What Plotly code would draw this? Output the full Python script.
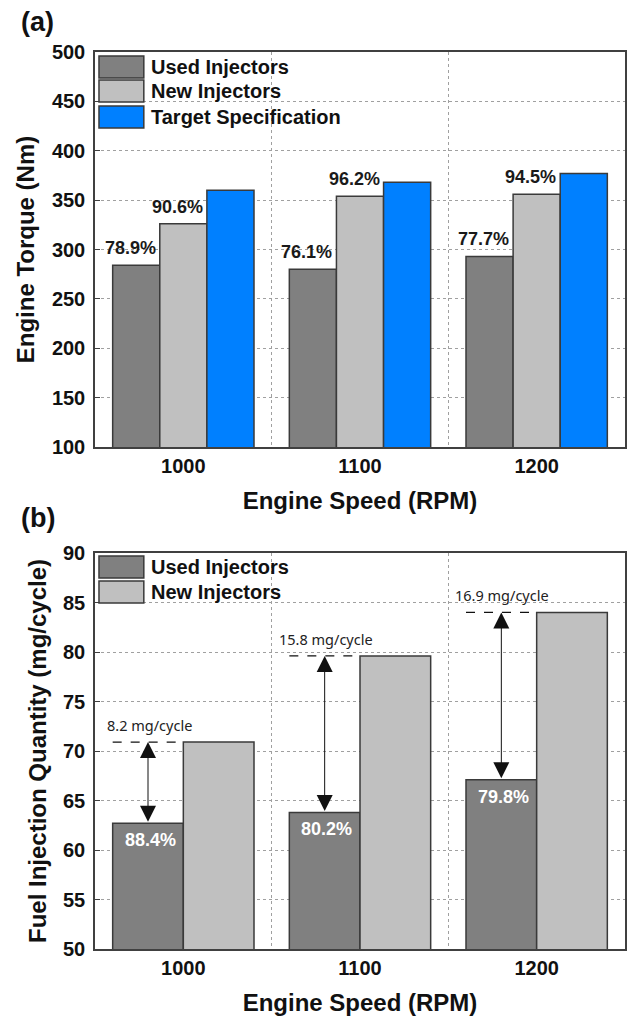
import plotly.graph_objects as go

# ---------------- data ----------------
speeds = ["1000", "1100", "1200"]

torque_used = [284, 280, 293]
torque_new = [326, 354, 356]
torque_target = [360, 368, 377]
torque_used_pct = ["78.9%", "76.1%", "77.7%"]
torque_new_pct = ["90.6%", "96.2%", "94.5%"]

fuel_used = [62.7, 63.8, 67.1]
fuel_new = [70.9, 79.6, 84.0]
fuel_used_pct = ["88.4%", "80.2%", "79.8%"]
fuel_diff_lbl = ["8.2 mg/cycle", "15.8 mg/cycle", "16.9 mg/cycle"]

series_names = ["Used Injectors", "New Injectors", "Target Specification"]
colors = ["#808080", "#c0c0c0", "#0080ff"]

# ---------------- layout geometry ----------------
W, H = 630, 1017
ML, MR, MT, MB = 95, 3, 52, 68
PW, PH = W - ML - MR, H - MT - MB


def px(xp):
    return (xp - ML) / PW


def py(yp):
    return (H - MB - yp) / PH


TOP_DOM = [py(447), py(52)]
BOT_DOM = [py(949), py(553)]

GROUP = 0.8
OUTLINE = dict(color="#3a3a3a", width=1.5)
FONT = "Liberation Sans"

fig = go.Figure()

# top chart bars
for k, (name, vals) in enumerate(zip(series_names, [torque_used, torque_new, torque_target])):
    fig.add_trace(go.Bar(x=speeds, y=vals, name=name, marker=dict(color=colors[k], line=OUTLINE),
                         xaxis="x", yaxis="y", showlegend=False))
# bottom chart bars
for k, (name, vals) in enumerate(zip(series_names[:2], [fuel_used, fuel_new])):
    fig.add_trace(go.Bar(x=speeds, y=vals, name=name, marker=dict(color=colors[k], line=OUTLINE),
                         xaxis="x2", yaxis="y2", showlegend=False))

annotations = []
shapes = []

pctfont = dict(family=FONT, size=18, color="#1a1a1a", weight="bold")

# top chart percentage labels
n3 = 3
w3 = GROUP / n3
for i in range(len(speeds)):
    for k, (vals, labels) in enumerate([(torque_used, torque_used_pct), (torque_new, torque_new_pct)]):
        xc = i + (k - (n3 - 1) / 2) * w3
        annotations.append(dict(x=xc, y=vals[i], xref="x", yref="y", text=labels[i], showarrow=False,
                                xanchor="center", yanchor="middle", xshift=-6, yshift=17,
                                font=pctfont))

# bottom chart annotations
n2 = 2
w2 = GROUP / n2
for i in range(len(speeds)):
    xu = i + (0 - (n2 - 1) / 2) * w2
    # dashed reference line across the used bar at new-injector level
    shapes.append(dict(type="line", xref="x2", yref="y2", x0=i - GROUP / 2, x1=i,
                       y0=fuel_new[i], y1=fuel_new[i], line=dict(color="#111", width=1.3, dash="dash"),
                       layer="above"))
    # double headed arrow
    annotations.append(dict(x=xu, y=fuel_new[i], ax=xu, ay=fuel_used[i], xref="x2", yref="y2",
                            axref="x2", ayref="y2", text="", showarrow=True, arrowside="end+start",
                            arrowhead=2, startarrowhead=2, arrowsize=3.2, startarrowsize=3.2,
                            arrowwidth=1, arrowcolor="#111", standoff=0, startstandoff=0))
    annotations.append(dict(x=xu, y=fuel_new[i], xref="x2", yref="y2", text=fuel_diff_lbl[i],
                            showarrow=False, xanchor="center", yanchor="middle", xshift=1, yshift=17,
                            font=dict(family="Noto Sans", size=14.5, color="#222")))
    annotations.append(dict(x=xu, y=fuel_used[i], xref="x2", yref="y2", text=fuel_used_pct[i],
                            showarrow=False, xanchor="center", yanchor="middle", xshift=2, yshift=-17,
                            font=dict(family=FONT, size=18, color="white", weight="bold")))

# custom legends (large swatches)
legend_rows_top = [(56, 78), (80, 102), (106, 128)]
legend_rows_bot = [(556, 578), (581, 603)]
for rows, names in [(legend_rows_top, series_names), (legend_rows_bot, series_names[:2])]:
    for k, ((y0, y1), name) in enumerate(zip(rows, names)):
        shapes.append(dict(type="rect", xref="paper", yref="paper", x0=px(99), x1=px(144),
                           y0=py(y1), y1=py(y0), fillcolor=colors[k], line=OUTLINE, layer="above"))
        annotations.append(dict(x=px(149), y=py((y0 + y1) / 2), xref="paper", yref="paper", text=name,
                                showarrow=False, xanchor="left", yanchor="middle",
                                font=dict(family=FONT, size=20, color="#111", weight="bold")))

# panel letters
for txt, yc in [("(a)", 22), ("(b)", 518)]:
    annotations.append(dict(x=px(19), y=py(yc), xref="paper", yref="paper", text=txt, showarrow=False,
                            xanchor="left", yanchor="middle",
                            font=dict(family=FONT, size=27, color="#111", weight="bold")))

tickfont = dict(family=FONT, size=20, color="#111", weight="bold")
titlefont = dict(family=FONT, size=24, color="#111", weight="bold")
grid = dict(showgrid=True, gridcolor="#a0a0a0", gridwidth=1, griddash="dot")
line = dict(showline=True, linecolor="#404040", linewidth=1.5, mirror=True)

xcommon = dict(type="category", tickson="boundaries", ticks="", tickfont=tickfont,
               range=[-0.5, 2.5], ticklabelstandoff=0, zeroline=False, **grid, **line)

fig.update_layout(
    width=W, height=H,
    margin=dict(l=ML, r=MR, t=MT, b=MB),
    paper_bgcolor="white", plot_bgcolor="white",
    barmode="group", bargap=1 - GROUP, bargroupgap=0,
    xaxis=dict(domain=[0, 1], anchor="y",
               title=dict(text="Engine Speed (RPM)", font=titlefont, standoff=16), **xcommon),
    yaxis=dict(domain=TOP_DOM, anchor="x", range=[100, 500], dtick=50, ticks="inside", ticklen=5,
               tickcolor="#404040", tickfont=tickfont, ticklabelstandoff=4, zeroline=False,
               title=dict(text="Engine Torque (Nm)", font=titlefont, standoff=10), **grid, **line),
    xaxis2=dict(domain=[0, 1], anchor="y2",
                title=dict(text="Engine Speed (RPM)", font=titlefont, standoff=16), **xcommon),
    yaxis2=dict(domain=BOT_DOM, anchor="x2", range=[50, 90], dtick=5, ticks="inside", ticklen=5,
                tickcolor="#404040", tickfont=tickfont, ticklabelstandoff=4, zeroline=False,
                title=dict(text="Fuel Injection Quantity (mg/cycle)", font=titlefont, standoff=10),
                **grid, **line),
    annotations=annotations,
    shapes=shapes,
)

fig.write_html("out.html")
